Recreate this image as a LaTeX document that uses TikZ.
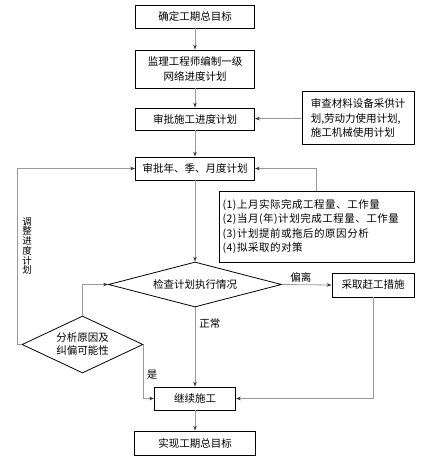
\documentclass[tikz,border=0pt]{standalone}
\usepackage{fontspec}
\setmainfont{Noto Sans CJK SC}
\newfontfamily\spacedcjk[LetterSpace=5]{Noto Sans CJK SC}
\usetikzlibrary{arrows.meta,shapes.geometric}
\begin{document}
\begin{tikzpicture}[x=1pt,y=-1pt,
  every node/.style={font=\fontsize{10.5}{14.5}\selectfont},
  box/.style={draw=black,line width=0.8pt,rectangle,inner sep=2pt,align=center},
  dia/.style={draw=black,line width=0.8pt,diamond,inner sep=0pt,align=center},
  arr/.style={draw=black!40,line width=0.8pt,-{Stealth[length=5pt,width=3.5pt,color=black!80]}},
  lbl/.style={inner sep=2pt}]
\useasboundingbox (0,0) rectangle (428,461);
\node[box,minimum width=119pt,minimum height=23pt] (b1) at (195,16.5) {确定工期总目标};
\node[box,minimum width=119pt,minimum height=38pt] (b2) at (195,69) {监理工程师编制一级\\网络进度计划};
\node[box,minimum width=119pt,minimum height=22pt] (b3) at (195,119) {审批施工进度计划};
\node[box,minimum width=112pt,minimum height=53pt,align=left] (side) at (358,118) {审查材料设备采供计\\划,劳动力使用计划,\\施工机械使用计划};
\node[box,minimum width=119pt,minimum height=23pt] (b4) at (195,168.5) {审批年、季、月度计划};
\node[box,minimum width=195pt,minimum height=71pt,align=left,text width=188pt,font=\spacedcjk\fontsize{10.5}{14.5}\selectfont] (info) at (316.5,226.5) {(1)上月实际完成工程量、工作量\\(2)当月(年)计划完成工程量、工作量\\(3)计划提前或拖后的原因分析\\(4)拟采取的对策};
\node[dia,aspect=3.84,minimum width=173pt,minimum height=45pt] (d1) at (195,284.5) {检查计划执行情况};
\node[box,minimum width=82pt,minimum height=24pt] (c1) at (373,285) {采取赶工措施};
\node[dia,aspect=2.12,minimum width=121pt,minimum height=57pt,font=\fontsize{10.5}{13}\selectfont] (d2) at (82.5,344.5) {分析原因及\\纠偏可能性};
\node[box,minimum width=81pt,minimum height=23pt] (b6) at (195,398.5) {继续施工};
\node[box,minimum width=121pt,minimum height=24pt] (b7) at (195,443) {实现工期总目标};
\coordinate (lc) at (17,344.5);
\node[lbl,align=center,font=\fontsize{9.5}{9.7}\selectfont] (adj) at (27,246) {调\\整\\进\\度\\计\\划};
\draw[arr] (b1) -- (b2);
\draw[arr] (b2) -- (b3);
\draw[arr] (b3) -- (b4);
\draw[arr] (side) -- (b3);
\draw[arr] (info.north) |- (b4.east);
\draw[arr] (b4) -- (d1);
\draw[arr] (d1.east) -- (c1.west) node[lbl,midway,above,xshift=-6pt] {偏离};
\draw[arr] (c1.south) |- (b6.east);
\draw[arr] (d1.south) -- (b6.north) node[lbl,pos=0.2,right,xshift=2pt] {正常};
\draw[arr] (d2.east) |- (b6.west) node[lbl,pos=0.28,right,xshift=1pt] {是};
\draw[arr] (d2.north) |- (d1.west);
\draw[arr] (d2.west) -- (lc) |- (b4.west);
\draw[arr] (b6) -- (b7);
\end{tikzpicture}
\end{document}
